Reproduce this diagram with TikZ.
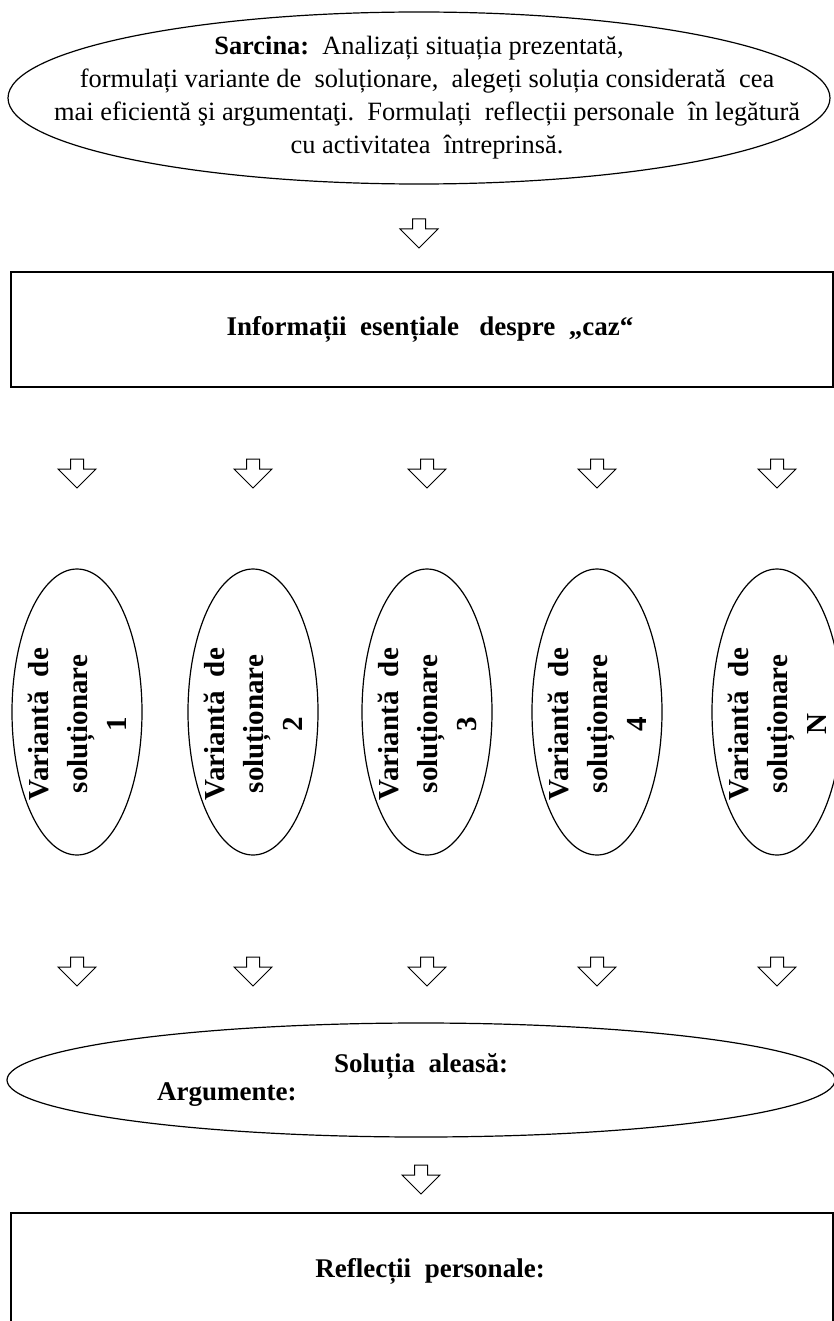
\documentclass[tikz,border=0pt]{standalone}
\usepackage{fontspec}
\setmainfont{Liberation Serif}
\usetikzlibrary{shapes.geometric}

\begin{document}
\begin{tikzpicture}[x=0.5pt,y=-0.5pt
,oval/.style={draw=black,ellipse,line width=0.6pt,inner sep=0pt}
,frame/.style={draw=black,rectangle,line width=0.8pt,inner sep=0pt}
,bigbold/.style={font=\fontsize{13.5}{16}\selectfont\bfseries}
,vartext/.style={yshift=-6pt,rotate=90,align=center,font=\fontsize{14.5}{19.5}\selectfont\bfseries}
,pics/downarrow/.style={code={\draw[line width=0.5pt,fill=white] (-6.5,0) -- (6.5,0) -- (6.5,10) -- (19,10) -- (0,29) -- (-19,10) -- (-6.5,10) -- cycle;}}
]
\useasboundingbox (0,0) rectangle (834,1321);
\clip (0,0) rectangle (834,1321);
% task
\node[oval,minimum width=411pt,minimum height=86pt,
  label={[align=center,font=\fontsize{13.2}{16.5}\selectfont,xshift=4pt]center:%
   \textbf{Sarcina:}~~Analizați situația prezentată,\hspace*{8pt}\\
   formulați variante de~~soluționare,~~alegeți soluția considerată~~cea\\
   mai eficientă şi argumentaţi.~~Formulați~~reflecții personale~~în legătură\\
   cu activitatea~~întreprinsă.}] (sarcina) at (419,98) {};
\pic at (sarcina |- 0,219) {downarrow};
% case
\node[frame,bigbold,minimum width=411pt,minimum height=57.5pt] (info) at (422,329.5)
  {\hspace*{8pt}Informații~~esențiale~~~despre~~„caz“};
% variants
\foreach \i/\xx/\lbl in {1/77/1,2/253/2,3/427/3,4/597/4,5/777/N} {
  \node[oval,minimum width=65pt,minimum height=143pt,
    label={[vartext]center:Variantă~~de\\soluționare\\\lbl}] (var\i) at (\xx,712) {};
  \pic at (var\i |- 0,459) {downarrow};
  \pic at (var\i |- 0,957) {downarrow};
}
% choice
\node[oval,minimum width=414pt,minimum height=57pt] (solutia) at (421,1080) {};
\node[bigbold] (alesa) at (421,1066) {Soluția~~aleasă:};
\node[bigbold,anchor=west] (argum) at (150,1095) {Argumente:};
\pic at (solutia |- 0,1165) {downarrow};
% reflection
\node[frame,bigbold,minimum width=411pt,minimum height=58.5pt] (reflectii) at (422,1271.5)
  {\hspace*{8pt}Reflecții~~personale:};
\end{tikzpicture}
\end{document}
